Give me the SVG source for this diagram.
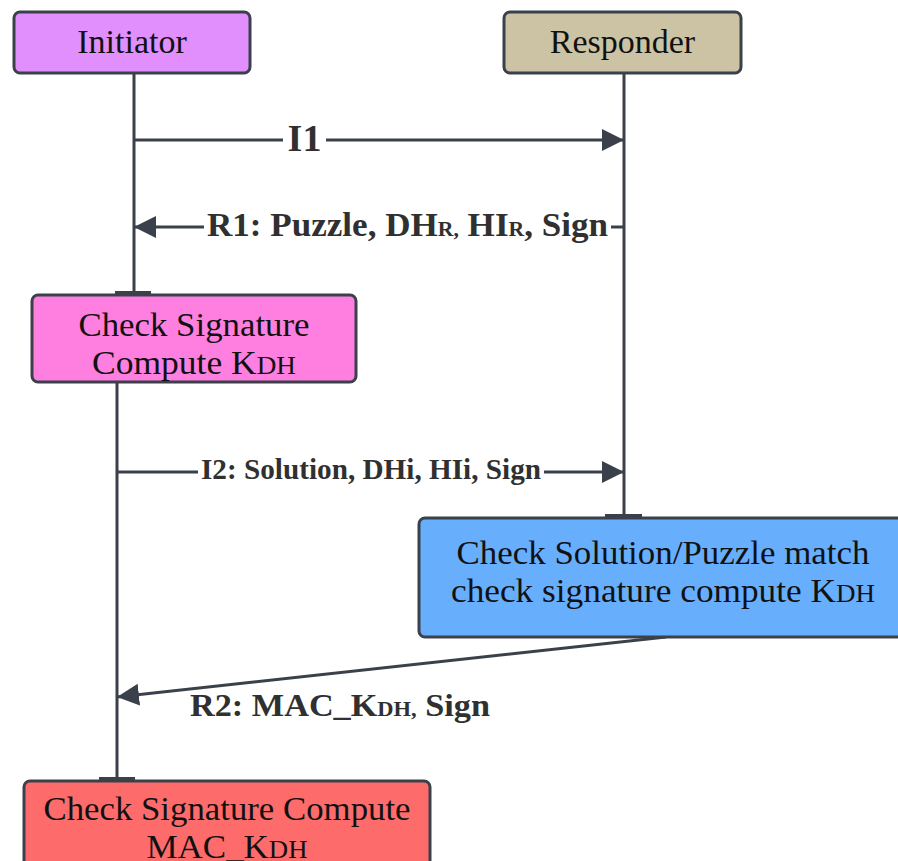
<svg xmlns="http://www.w3.org/2000/svg" width="898" height="861" viewBox="0 0 898 861">
  <style>
    .box { stroke: #3b414b; stroke-width: 3; }
    .life { stroke: #3b414b; stroke-width: 3; fill: none; }
    .bar { fill: #3b414b; }
    .msg { stroke: #3b414b; stroke-width: 3; fill: none; marker-end: url(#arrow); }
    .head { font-family: "Liberation Serif", serif; font-size: 34px; fill: #111; text-anchor: middle; }
    .step { font-family: "Liberation Serif", serif; font-size: 34px; fill: #111; text-anchor: middle; }
    .lbl { font-family: "Liberation Serif", serif; font-weight: bold; fill: #303030; }
  </style>
  <defs>
    <marker id="arrow" markerUnits="userSpaceOnUse" markerWidth="24" markerHeight="24" refX="22" refY="11" orient="auto">
      <path d="M0 0 L22 11 L0 22 Z" fill="#3b414b"/>
    </marker>
  </defs>

  <!-- lifelines and message connectors -->
  <g id="connectors">
    <path class="life" d="M134 73 V291"/>
    <path class="life" d="M117 382 V777"/>
    <path class="life" d="M624 73 V514"/>
    <rect class="bar" x="115" y="291" width="36" height="5"/>
    <rect class="bar" x="605" y="514" width="37" height="5"/>
    <rect class="bar" x="99" y="777" width="36" height="5"/>

    <path class="msg" d="M134 140 H283 M326 140 H624"/>
    <text class="lbl" x="304.5" y="151" font-size="38" text-anchor="middle">I1</text>

    <path class="msg" d="M624 227 H611 M204 227 H134"/>
    <text class="lbl" x="207" y="236" font-size="34" textLength="401" lengthAdjust="spacingAndGlyphs">R1: Puzzle, DH<tspan font-size="21">R,</tspan> HI<tspan font-size="21">R</tspan>, Sign</text>

    <path class="msg" d="M117 472 H198 M544 472 H624"/>
    <text class="lbl" x="201" y="479" font-size="29" textLength="340" lengthAdjust="spacingAndGlyphs">I2: Solution, DHi, HIi, Sign</text>

    <path class="msg" d="M666 637 L117 697"/>
    <text class="lbl" x="190" y="716" font-size="32" textLength="300" lengthAdjust="spacingAndGlyphs">R2: MAC_K<tspan font-size="21">DH,</tspan> Sign</text>
  </g>

  <g id="initiator">
    <rect class="box" x="14" y="12" width="236" height="61" rx="6" fill="#e08ffc"/>
    <text class="head" x="132" y="53">Initiator</text>
  </g>

  <g id="responder">
    <rect class="box" x="504" y="12" width="237" height="61" rx="6" fill="#cbc3a4"/>
    <text class="head" x="622.5" y="53">Responder</text>
  </g>

  <g id="initiator-check">
    <rect class="box" x="32" y="295" width="324" height="87" rx="6" fill="#fe7fdf"/>
    <text class="step" x="194" y="336" textLength="231" lengthAdjust="spacingAndGlyphs">Check Signature</text>
    <text class="step" x="194" y="374" textLength="204" lengthAdjust="spacingAndGlyphs">Compute K<tspan font-size="26">DH</tspan></text>
  </g>

  <g id="responder-check">
    <rect class="box" x="419" y="518" width="490" height="119" rx="6" fill="#67aefd"/>
    <text class="step" x="663" y="564" textLength="413" lengthAdjust="spacingAndGlyphs">Check Solution/Puzzle match</text>
    <text class="step" x="663" y="602" textLength="424" lengthAdjust="spacingAndGlyphs">check signature compute K<tspan font-size="26">DH</tspan></text>
  </g>

  <g id="initiator-final">
    <rect class="box" x="24" y="781" width="406" height="100" rx="6" fill="#fe6b6b"/>
    <text class="step" x="227" y="820" textLength="367" lengthAdjust="spacingAndGlyphs">Check Signature Compute</text>
    <text class="step" x="227" y="858" textLength="161" lengthAdjust="spacingAndGlyphs">MAC_K<tspan font-size="26">DH</tspan></text>
  </g>
</svg>
